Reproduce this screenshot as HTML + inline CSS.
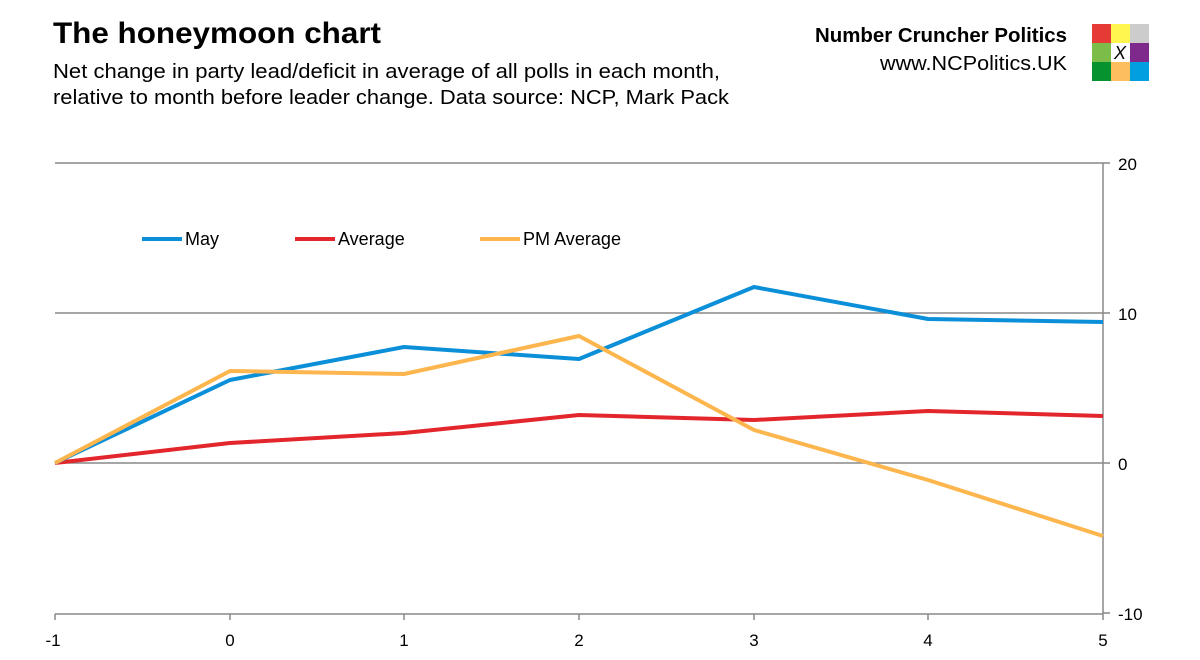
<!DOCTYPE html>
<html><head><meta charset="utf-8"><style>
body{margin:0;background:#fff;font-family:"Liberation Sans",sans-serif}
</style></head><body>
<svg width="1200" height="655" xmlns="http://www.w3.org/2000/svg" font-family="Liberation Sans, sans-serif">
<rect width="1200" height="655" fill="#fff"/>
<text x="53" y="43" font-size="30" font-weight="bold" textLength="328" lengthAdjust="spacingAndGlyphs">The honeymoon chart</text>
<text x="53" y="78" font-size="20" textLength="667" lengthAdjust="spacingAndGlyphs">Net change in party lead/deficit in average of all polls in each month,</text>
<text x="53" y="104" font-size="20" textLength="676" lengthAdjust="spacingAndGlyphs">relative to month before leader change. Data source: NCP, Mark Pack</text>
<text x="815" y="42" font-size="20" font-weight="bold" textLength="252" lengthAdjust="spacingAndGlyphs">Number Cruncher Politics</text>
<text x="880" y="70" font-size="20" textLength="187" lengthAdjust="spacingAndGlyphs">www.NCPolitics.UK</text>
<g>
<rect x="1092" y="24" width="19" height="19" fill="#e53a35"/><rect x="1111" y="24" width="19" height="19" fill="#fff64f"/><rect x="1130" y="24" width="19" height="19" fill="#cccccc"/>
<rect x="1092" y="43" width="19" height="19" fill="#7cbd4a"/><rect x="1130" y="43" width="19" height="19" fill="#7d2a8c"/>
<rect x="1092" y="62" width="19" height="19" fill="#06922f"/><rect x="1111" y="62" width="19" height="19" fill="#fdbf5e"/><rect x="1130" y="62" width="19" height="19" fill="#019fe0"/>
<text x="1120" y="59" font-size="18" font-style="italic" text-anchor="middle">X</text>
</g>
<g stroke="#888" stroke-width="1.5" fill="none">
<line x1="55" y1="163" x2="1110" y2="163"/>
<line x1="55" y1="313" x2="1110" y2="313"/>
<line x1="55" y1="463" x2="1110" y2="463"/>
<line x1="1103" y1="613" x2="1110" y2="613"/>
<line x1="1103" y1="163" x2="1103" y2="614"/>
<line x1="55" y1="614" x2="1103" y2="614"/>
<line x1="55" y1="614" x2="55" y2="620"/><line x1="230" y1="614" x2="230" y2="620"/><line x1="404" y1="614" x2="404" y2="620"/><line x1="579" y1="614" x2="579" y2="620"/><line x1="754" y1="614" x2="754" y2="620"/><line x1="928" y1="614" x2="928" y2="620"/><line x1="1103" y1="614" x2="1103" y2="620"/>
</g>
<g font-size="17">
<text x="1118" y="170">20</text><text x="1118" y="320">10</text><text x="1118" y="470">0</text><text x="1118" y="620">-10</text>
<g text-anchor="middle"><text x="53" y="646">-1</text><text x="230" y="646">0</text><text x="404" y="646">1</text><text x="579" y="646">2</text><text x="754" y="646">3</text><text x="928" y="646">4</text><text x="1103" y="646">5</text></g>
</g>
<g fill="none" stroke-width="4" stroke-linejoin="round">
<polyline stroke="#e3262c" points="55,463 230,443 404,433 579,415 754,420 928,411 1103,416"/>
<polyline stroke="#0a8fd8" points="55,463 230,380 404,347 579,359 754,287 928,319 1103,322"/>
<polyline stroke="#fdb64e" points="55,463 230,371 404,374 579,336 754,430 928,480 1103,536"/>
<line stroke="#0a8fd8" x1="142" y1="239" x2="182" y2="239"/>
<line stroke="#e3262c" x1="295" y1="239" x2="335" y2="239"/>
<line stroke="#fdb64e" x1="480" y1="239" x2="520" y2="239"/>
</g>
<g font-size="18"><text x="185" y="245">May</text><text x="338" y="245">Average</text><text x="523" y="245" textLength="98" lengthAdjust="spacingAndGlyphs">PM Average</text></g>
</svg>
</body></html>
